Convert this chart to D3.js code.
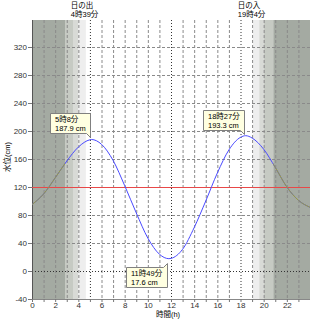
<!DOCTYPE html>
<html>
<head>
<meta charset="utf-8">
<script src="https://cdn.jsdelivr.net/npm/d3@7"></script>
<style>
  html, body { margin: 0; padding: 0; background: #fff; }
  svg { display: block; font-family: "Liberation Sans", "Noto Sans CJK JP", sans-serif; }
</style>
</head>
<body>
<div id="chart"></div>
<script>
// Tide curve for one day: hourly readings off the picture plus the three turning points.
const hours  = [0, 1, 2, 3, 4, 5, 5.133, 6, 7, 8, 9, 10, 11, 11.817, 12, 13, 14, 15, 16, 17, 18, 18.45, 19, 20, 21, 22, 23, 24];
const levels = [95, 110, 133, 157, 177, 187.5, 187.9, 181, 158, 122, 83, 47, 24, 17.6, 18, 31, 62, 100, 140, 173, 191, 193.3, 190, 174, 148, 120, 101, 91];

const extremeHours  = [5.133, 11.817, 18.45];
const extremeLevels = [187.9, 17.6, 193.3];
const extremeTimes  = ["5時8分", "11時49分", "18時27分"];

const sunHours  = [4.65, 19.067];
const sunNames  = ["日の出", "日の入"];
const sunTimes  = ["4時39分", "19時4分"];

// twilight bands: start, end, depth (0 = civil .. 3 = night)
const bandStart = [0, 2.85, 3.54, 3.97, 19.067, 19.62, 20.03, 20.83];
const bandEnd   = [2.85, 3.54, 3.97, 4.65, 19.62, 20.03, 20.83, 24];
const bandDepth = [3, 2, 1, 0, 0, 1, 2, 3];

const meanLevel = 120;
const yTicks = [-40, 0, 40, 80, 120, 160, 200, 240, 280, 320];
const xTickLabels = [0, 2, 4, 6, 8, 10, 12, 14, 16, 18, 20, 22];

const SHADES = ["#eeeeee", "#d8dad6", "#c6cac3", "#a4aaa2"];
const W = 320, H = 320, plotTop = 20;

const x = d3.scaleLinear().domain([0, 24]).range([32, 310]);
const y = d3.scaleLinear().domain([-40, 320]).range([299, 47]);
const [x0, x1] = x.range(), yBot = y(-40);

const svg = d3.select("#chart").append("svg").attr("width", W).attr("height", H);
svg.append("rect").attr("width", W).attr("height", H).attr("fill", "#fff");

svg.append("clipPath").attr("id", "plot")
  .append("rect").attr("x", x0).attr("y", plotTop).attr("width", x1 - x0).attr("height", yBot - plotTop);
const night = svg.append("clipPath").attr("id", "night");

bandStart.forEach((s, i) => {
  svg.append("rect").attr("x", x(s)).attr("y", plotTop).attr("width", x(bandEnd[i]) - x(s))
    .attr("height", yBot - plotTop).attr("fill", SHADES[bandDepth[i]]);
  if (bandDepth[i] === 3)
    night.append("rect").attr("x", x(s)).attr("y", plotTop).attr("width", x(bandEnd[i]) - x(s)).attr("height", yBot - plotTop);
});

// grid
const markHours = extremeHours.map(Math.round);
const grid = svg.append("g").attr("fill", "none");
for (const h of d3.range(1, 24)) {
  const mark = markHours.includes(h);
  grid.append("line").attr("x1", x(h) + 0.5).attr("x2", x(h) + 0.5).attr("y1", plotTop).attr("y2", yBot)
    .attr("stroke", mark ? "#333" : "#8a8a8a").attr("stroke-dasharray", mark ? "1,2" : "3,2");
}
for (const v of yTicks) {
  if (v === -40 || v === meanLevel) continue;
  grid.append("line").attr("x1", x0).attr("x2", x1).attr("y1", y(v) + 0.5).attr("y2", y(v) + 0.5)
    .attr("stroke", v === 0 ? "#333" : "#8a8a8a").attr("stroke-dasharray", v === 0 ? "1,2" : "3,2");
}

// axes
const axes = svg.append("g").attr("font-size", 8).attr("fill", "#333");
axes.append("line").attr("x1", x0 + 0.5).attr("x2", x0 + 0.5).attr("y1", plotTop).attr("y2", yBot).attr("stroke", "#555");
axes.append("line").attr("x1", x0).attr("x2", x1).attr("y1", yBot + 0.5).attr("y2", yBot + 0.5).attr("stroke", "#888");
for (const v of yTicks) {
  axes.append("line").attr("x1", x0 - 4).attr("x2", x0).attr("y1", y(v) + 0.5).attr("y2", y(v) + 0.5).attr("stroke", "#777");
  axes.append("text").attr("x", x0 - 5).attr("y", y(v) + 3).attr("text-anchor", "end").text(v);
}
for (const h of d3.range(0, 24)) {
  axes.append("line").attr("x1", x(h) + 0.5).attr("x2", x(h) + 0.5).attr("y1", yBot).attr("y2", yBot + 3).attr("stroke", "#777");
}
for (const h of xTickLabels) {
  axes.append("text").attr("x", x(h) + 0.5).attr("y", yBot + 9).attr("text-anchor", "middle").text(h);
}

// mean level
svg.append("line")
  .attr("x1", x0).attr("x2", x1).attr("y1", y(meanLevel) + 0.5).attr("y2", y(meanLevel) + 0.5)
  .attr("stroke", "#e84848").attr("stroke-width", 1);

// tide curve (drawn again in olive where it crosses the night shade)
const line = d3.line().x((d, i) => x(hours[i])).y(d => y(d)).curve(d3.curveMonotoneX);
svg.append("path").datum(levels).attr("clip-path", "url(#plot)")
  .attr("fill", "none").attr("stroke", "#4a4aff").attr("stroke-width", 1).attr("d", line);
svg.append("path").datum(levels).attr("clip-path", "url(#night)")
  .attr("fill", "none").attr("stroke", "#9a9c42").attr("stroke-width", 1).attr("d", line);

// callouts for high/low water
function callout(h, v, lines, below) {
  const px = x(h), py = y(v);
  const g = svg.append("g");
  const ts = lines.map((s, i) => g.append("text").attr("font-size", 7.5).attr("fill", "#000")
    .attr("y", i * 8.5).text(s));
  const w = Math.ceil(d3.max(ts, t => t.node().getComputedTextLength())) + 9, hh = 20;
  const right = Math.round(px - 1.5) + 0.5, left = right - w;
  const top = Math.round(below ? py + 8 : py - 6 - hh) + 0.5, bottom = top + hh;
  const d = below
    ? `M${left},${top}H${right - 4}L${right},${top - 4}V${bottom}H${left}Z`
    : `M${left},${top}H${right}V${bottom + 4}L${right - 4},${bottom}H${left}Z`;
  g.insert("path", "text").attr("d", d).attr("fill", "#ffffe1").attr("stroke", "#808080");
  ts.forEach(t => t.attr("x", left + 4.5).attr("y", +t.attr("y") + top + 8.5));
}
extremeHours.forEach((h, i) => callout(h, extremeLevels[i], [extremeTimes[i], `${extremeLevels[i]} cm`], i === 1));

// sunrise / sunset
sunHours.forEach((h, i) => {
  svg.append("text").attr("font-size", 7.5).attr("x", x(h) - 15).attr("y", 8).text(sunNames[i]);
  svg.append("text").attr("font-size", 7.5).attr("x", x(h) - 15).attr("y", 17).text(sunTimes[i]);
});

// axis titles
svg.append("text").attr("font-size", 7.5).attr("text-anchor", "middle")
  .attr("transform", `translate(10,157) rotate(-90)`).text("水位(cm)");
svg.append("text").attr("font-size", 7.5).attr("text-anchor", "middle")
  .attr("x", 168).attr("y", 317).text("時間(h)");
</script>
</body>
</html>
